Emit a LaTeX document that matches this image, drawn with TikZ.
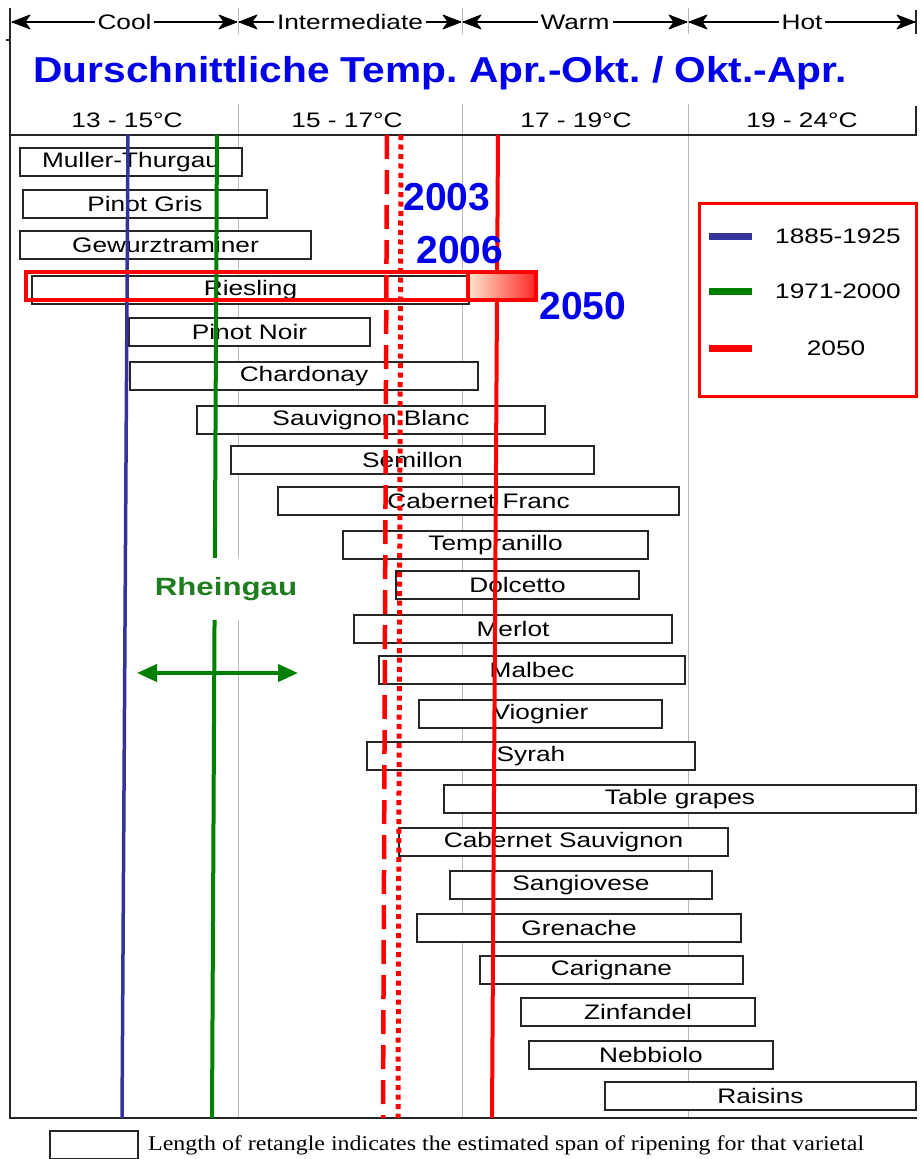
\documentclass[tikz,border=0pt]{standalone}
\usepackage{fontspec}
\setmainfont{Liberation Sans}
\newfontfamily\widef[FakeStretch=1.25]{Liberation Sans}
\newfontfamily\titlef[FakeStretch=1.13]{Liberation Sans}
\newfontfamily\notef[FakeStretch=1.14]{Liberation Serif}
\usetikzlibrary{arrows.meta}
\definecolor{lblue}{RGB}{51,51,153}
\definecolor{lgreen}{RGB}{0,128,0}
\definecolor{tblue}{RGB}{0,0,235}
\definecolor{rgreen}{RGB}{30,125,30}
\definecolor{sepgray}{RGB}{185,185,185}
\definecolor{lred}{RGB}{255,0,0}
\frenchspacing
\tikzset{
  barbox/.style={draw=black!85, line width=1.3pt, fill=white, minimum height=28pt, inner sep=0pt, font=\widef\fontsize{21}{24}\selectfont},
  sepline/.style={draw=sepgray, line width=0.9pt},
  frame/.style={draw=black!85, line width=1.5pt},
  hline/.style={draw=black, line width=1.6pt},
  htip/.style={fill=black, draw=black, line width=0.8pt, line join=round},
  hlabel/.style={fill=white, inner sep=3pt, font=\widef\fontsize{21}{24}\selectfont},
  templabel/.style={inner sep=0pt, font=\widef\fontsize{21}{24}\selectfont},
  yearlabel/.style={inner sep=0pt, text=tblue, font=\bfseries\fontsize{39}{42}\selectfont},
  legtext/.style={inner sep=0pt, font=\widef\fontsize{21}{24}\selectfont},
  legline/.style={line width=7pt},
}
\newcommand\grape[5]{\node[barbox, minimum width={#3-#2}] (#1) at ({(#2+#3)/2},#4) {#5};}
% left-pointing and right-pointing header tips at a coordinate
\newcommand\tipL[1]{\draw[htip] (#1) -- ++(18,-7) -- ++(-5,7) -- ++(5,7) -- cycle;}
\newcommand\tipR[1]{\draw[htip] (#1) -- ++(-18,-7) -- ++(5,7) -- ++(-5,7) -- cycle;}
\begin{document}
\begin{tikzpicture}[x=1pt,y=-1pt]
\useasboundingbox (0,0) rectangle (921,1159);
\fill[white] (0,0) rectangle (921,1159);
% header boundaries
\coordinate (h0) at (12,22);
\coordinate (h1) at (238,22);
\coordinate (h2) at (462,22);
\coordinate (h3) at (688,22);
\coordinate (h4) at (915,22);
\coordinate (h1a) at (237,22); \coordinate (h1b) at (239,22);
\coordinate (h2a) at (461,22); \coordinate (h2b) at (463,22);
\coordinate (h3a) at (687,22); \coordinate (h3b) at (689,22);
\foreach \x in {238,462,688} {
  \draw[sepline] (\x,8) -- (\x,34);
  \draw[sepline] (\x,104) -- (\x,135);
  \draw[sepline] (\x,135) -- (\x,1118);
}
\draw[frame] (916,10) -- (916,34);
\draw[frame] (916,106) -- (916,135);
\draw[hline] (h0) -- (h1a) node[midway, hlabel] (cool) {Cool};
\draw[hline] (h1b) -- (h2a) node[midway, hlabel] (inter) {Intermediate};
\draw[hline] (h2b) -- (h3a) node[midway, hlabel] (warm) {Warm};
\draw[hline] (h3b) -- (h4) node[midway, hlabel] (hot) {Hot};
\tipL{h0} \tipR{h1a} \tipL{h1b} \tipR{h2a} \tipL{h2b} \tipR{h3a} \tipL{h3b} \tipR{h4}
% title
\node[inner sep=0pt, text=tblue, font=\titlef\bfseries\fontsize{36}{40}\selectfont] (title) at (440,73) {Durschnittliche Temp. Apr.-Okt. / Okt.-Apr.};
% temperature labels
\node[templabel] (t1) at (127,120) {13 - 15°C};
\node[templabel] (t2) at (347,120) {15 - 17°C};
\node[templabel] (t3) at (576,120) {17 - 19°C};
\node[templabel] (t4) at (802,120) {19 - 24°C};
% frame
\draw[frame] (10,8) -- (10,1118);
\draw[frame] (6,40) -- (10,40);
\draw[frame] (10,135) -- (917,135);
\draw[draw=black!85, line width=2pt] (9,1118) -- (917,1118);
% bars
\grape{mt}{20}{242}{162}{Muller-Thurgau}
\grape{pg}{23}{267}{204}{Pinot Gris}
\grape{gw}{20}{311}{245}{Gewurztraminer}
\grape{ri}{32}{469}{290}{Riesling}
\grape{pn}{129}{370}{332}{Pinot Noir}
\grape{ch}{130}{478}{376}{Chardonay}
\grape{sb}{197}{545}{420}{Sauvignon Blanc}
\grape{se}{231}{594}{460}{Semillon}
\grape{cf}{278}{679}{501}{Cabernet Franc}
\grape{te}{343}{648}{545}{Tempranillo}
\grape{do}{396}{639}{585}{Dolcetto}
\grape{me}{354}{672}{629}{Merlot}
\grape{ma}{379}{685}{670}{Malbec}
\grape{vi}{419}{662}{714}{Viognier}
\grape{sy}{367}{695}{756}{Syrah}
\grape{tg}{444}{916}{799}{Table grapes}
\grape{cs}{399}{728}{842}{Cabernet Sauvignon}
\grape{sa}{450}{712}{885}{Sangiovese}
\grape{gr}{417}{741}{928}{Grenache}
\grape{ca}{480}{743}{970}{Carignane}
\grape{zi}{521}{755}{1012}{Zinfandel}
\grape{ne}{529}{773}{1055}{Nebbiolo}
\grape{ra}{605}{916}{1096}{Raisins}
% period lines
\coordinate (bT) at (128,135); \coordinate (bB) at (122,1118);
\coordinate (gT) at (217,135); \coordinate (gB) at (212,1118);
\coordinate (dT) at (387,135); \coordinate (dB) at (383,1118);
\coordinate (oT) at (401,135); \coordinate (oB) at (398,1118);
\coordinate (rT) at (498,135); \coordinate (rB) at (492,1118);
\draw[lblue, line width=3.5pt] (bT) -- (bB);
\draw[lgreen, line width=4pt] (gT) -- (gB);
\draw[lred, line width=4.5pt, dash pattern=on 24pt off 11pt] (dT) -- (dB);
\draw[lred, line width=5pt, dash pattern=on 5pt off 4.5pt] (oT) -- (oB);
\draw[lred, line width=4pt] (rT) -- (rB);
% Riesling highlight
\node[draw=lred, line width=3.5pt, minimum width=442, minimum height=28, inner sep=0pt] (rrect) at (247,286) {};
\node[draw=lred, line width=3.5pt, minimum width=68, minimum height=28, inner sep=0pt, left color=orange!20!white, right color=lred!85] (r2050) at (502,286) {};
% year labels
\node[yearlabel] (y2003) at (447,197) {2003};
\node[yearlabel] (y2006) at (460,250) {2006};
\node[yearlabel] (y2050) at (583,306) {2050};
% Rheingau
\node[fill=white, minimum height=62pt, inner sep=3pt, text=rgreen, font=\widef\bfseries\fontsize{25}{28}\selectfont] (rh) at (226,589) {Rheingau};
\coordinate (aL) at (137,673); \coordinate (aR) at (298,673);
\draw[lgreen, line width=4pt, {Triangle[length=20pt,width=17pt]}-{Triangle[length=20pt,width=17pt]}] (aL) -- (aR);
% legend
\node[draw=lred, line width=3pt, minimum width=217, minimum height=193, inner sep=0pt] (leg) at (807.5,299.5) {};
\coordinate (l1a) at (709,236); \coordinate (l1b) at (752,236);
\coordinate (l2a) at (709,291); \coordinate (l2b) at (752,291);
\coordinate (l3a) at (709,348); \coordinate (l3b) at (752,348);
\draw[legline, lblue] (l1a) -- (l1b);
\draw[legline, lgreen] (l2a) -- (l2b);
\draw[legline, lred] (l3a) -- (l3b);
\node[legtext] (lt1) at (838,236) {1885-1925};
\node[legtext] (lt2) at (838,291) {1971-2000};
\node[legtext] (lt3) at (836,348) {2050};
% note
\node[draw=black!85, line width=1.5pt, minimum width=88, minimum height=28, inner sep=0pt] (nbox) at (94,1145) {};
\node[anchor=west, inner sep=0pt, font=\notef\fontsize{21}{23}\selectfont] (note) at (148,1145) {Length of retangle indicates the estimated span of ripening for that varietal};
\end{tikzpicture}
\end{document}
